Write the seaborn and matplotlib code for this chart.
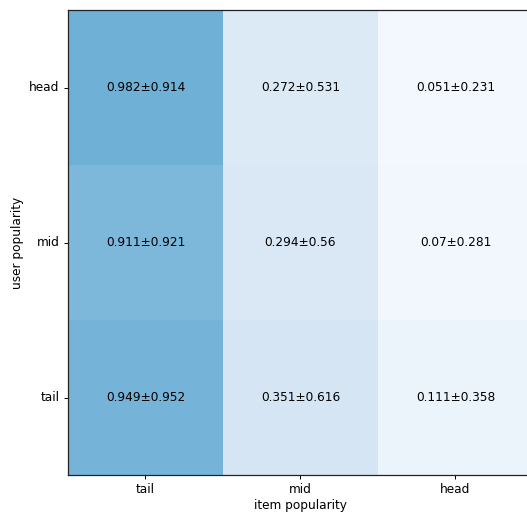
import numpy as np
import pandas as pd
import matplotlib
matplotlib.use("Agg")
import matplotlib.pyplot as plt
import seaborn as sns

# popularity groups
user_groups = ["head", "mid", "tail"]
item_groups = ["tail", "mid", "head"]

# mean and std per (user group, item group)
means = [
    [0.982, 0.272, 0.051],
    [0.911, 0.294, 0.07],
    [0.949, 0.351, 0.111],
]
stds = [
    [0.914, 0.531, 0.231],
    [0.921, 0.56, 0.281],
    [0.952, 0.616, 0.358],
]

df = pd.DataFrame(means, index=user_groups, columns=item_groups)
labels = np.array([[f"{m}\u00b1{s}" for m, s in zip(mr, sr)] for mr, sr in zip(means, stds)])

fs = 8.7
fig = plt.figure(figsize=(5.27, 5.12), dpi=100)
ax = fig.add_axes([68 / 527, 37 / 512, 465 / 527, 465 / 512])

sns.heatmap(df, ax=ax, cmap="Blues", vmin=0, vmax=2.0, cbar=False,
            annot=labels, fmt="", annot_kws={"color": "black", "fontsize": fs})

for side in ["left", "bottom", "top", "right"]:
    ax.spines[side].set_visible(True)
    ax.spines[side].set_color("#222222")
    ax.spines[side].set_linewidth(0.9)

ax.tick_params(axis="both", length=3, width=0.7, labelsize=fs, pad=3)
ax.set_yticklabels(user_groups, rotation=0, va="center")
ax.set_xticklabels(item_groups, rotation=0)
ax.set_xlabel("item popularity", fontsize=fs, labelpad=2)
ax.set_ylabel("user popularity", fontsize=fs, labelpad=4)

fig.savefig("out.png", dpi=100)
